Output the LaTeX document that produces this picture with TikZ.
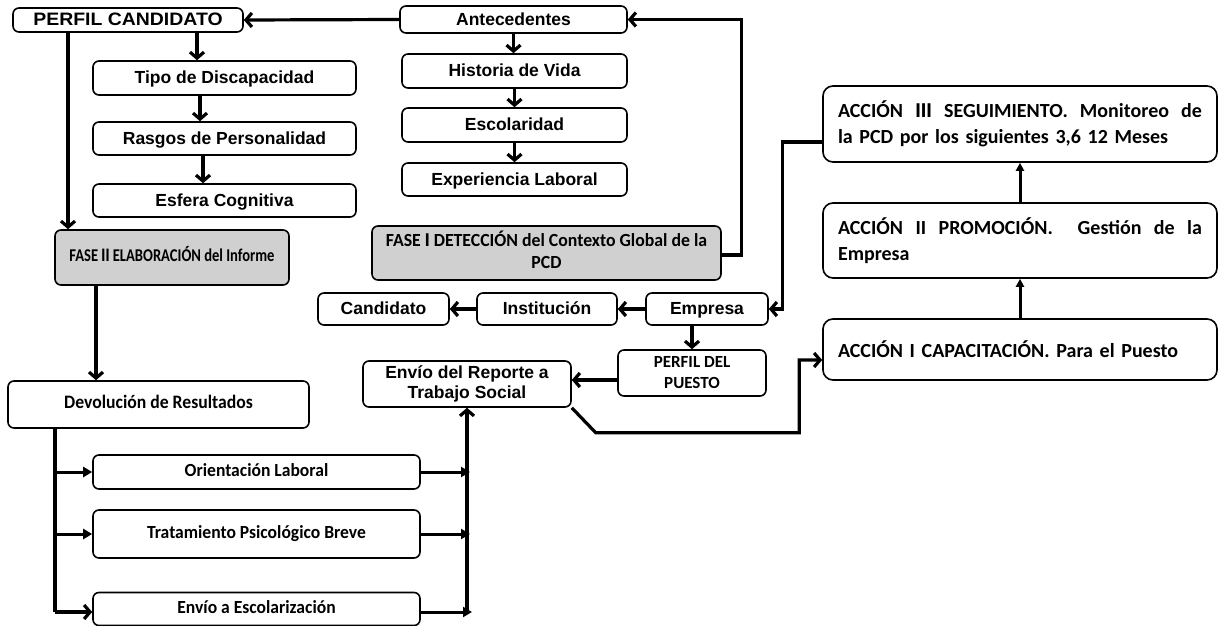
\documentclass[tikz,border=0pt]{standalone}
\usepackage{fontspec}
\setmainfont{Liberation Sans}
\newfontfamily\calfont{Carlito}
\usetikzlibrary{arrows.meta,calc}
\definecolor{fasegray}{RGB}{208,208,208}
\newcommand{\sq}[2]{\scalebox{#1}[1]{\begin{tabular}{@{}c@{}}#2\end{tabular}}}
\begin{document}
\begin{tikzpicture}[x=1pt,y=-1pt,
  box/.style={draw, line width=1.6pt, rounded corners=6pt, fill=white, inner sep=2pt, align=center,
              font=\fontsize{17.5}{20}\selectfont\bfseries},
  one/.style={text height=13.5pt, text depth=2pt},
  cbox/.style={box, font=\calfont\fontsize{18.5}{22}\selectfont\bfseries},
  gbox/.style={cbox, fill=fasegray},
  abox/.style={draw, line width=1.6pt, rounded corners=10pt, fill=white, inner xsep=15pt, align=left,
               text width=364pt, minimum width=394pt, font=\calfont\fontsize{20}{26}\selectfont\bfseries},
  chev/.style={line width=3.2pt, -{Straight Barb[length=6pt,width=14pt]}},
  tri/.style={line width=3pt, -{Triangle[length=9pt,width=10pt]}},
  stri/.style={line width=3pt, -{Triangle[length=8pt,width=8pt]}},
  plain/.style={line width=3.2pt}
]
\useasboundingbox (0,0) rectangle (1219,626);

% left column
\node[box, one, minimum width=230pt, minimum height=24pt, font=\fontsize{18}{19}\selectfont\bfseries] (pc) at (128,20) {\scalebox{1.08}[1]{PERFIL CANDIDATO}};
\node[box, one, minimum width=263pt, minimum height=34pt] (tipo) at (224.5,78) {Tipo de Discapacidad};
\node[box, one, minimum width=263pt, minimum height=33pt] (rasgos) at (224.5,138.5) {Rasgos de Personalidad};
\node[box, one, minimum width=263pt, minimum height=33pt] (esfera) at (224.5,200.5) {Esfera Cognitiva};

% middle column
\node[box, one, minimum width=227pt, minimum height=27pt] (ant) at (513.5,19.5) {Antecedentes};
\node[box, one, minimum width=225pt, minimum height=34pt] (hist) at (514.5,71) {Historia de Vida};
\node[box, one, minimum width=225pt, minimum height=34pt] (esc) at (514.5,125) {Escolaridad};
\node[box, one, minimum width=225pt, minimum height=33pt] (exp) at (514.5,179.5) {Experiencia Laboral};

% phases
\node[gbox, minimum width=234pt, minimum height=55pt, font=\calfont\fontsize{18}{22}\selectfont\bfseries] (fase2) at (172,257.5)
  {\sq{0.81}{FASE {\rmfamily II} ELABORACIÓN del Informe}};
\node[gbox, minimum width=349pt, minimum height=54pt, font=\calfont\fontsize{18.5}{22}\selectfont\bfseries] (fase1) at (546.5,253)
  {\sq{0.96}{FASE {\rmfamily I} DETECCIÓN del Contexto Global de la\\PCD}};

% row of agents
\node[box, one, minimum width=131pt, minimum height=32pt] (cand) at (383.5,309) {Candidato};
\node[box, one, minimum width=140pt, minimum height=32pt] (inst) at (547,309) {Institución};
\node[box, one, minimum width=122pt, minimum height=32pt] (emp) at (707,309) {Empresa};
\node[box, minimum width=148pt, minimum height=46pt, font=\calfont\fontsize{17}{21}\selectfont\bfseries] (pp) at (692,373) {PERFIL DEL\\PUESTO};
\node[box, minimum width=208pt, minimum height=46pt, font=\fontsize{17.5}{20}\selectfont\bfseries] (env) at (467,384) {Envío del Reporte a\\Trabajo Social};

% results
\node[cbox, minimum width=301pt, minimum height=47pt, font=\calfont\fontsize{19}{22}\selectfont\bfseries] (dev) at (158.5,404.5) {\sq{0.93}{Devolución de Resultados}};
\node[cbox, minimum width=327pt, minimum height=34pt] (ori) at (256.5,472) {\sq{0.95}{Orientación Laboral}};
\node[cbox, minimum width=327pt, minimum height=48pt] (trat) at (256.5,534) {\sq{0.95}{Tratamiento Psicológico Breve}};
\node[cbox, minimum width=327pt, minimum height=33pt] (escol) at (256.5,609) {\sq{0.95}{Envío a Escolarización}};

% actions
\node[abox, minimum height=76pt] (a3) at (1020,124)
  {\hbox to 364pt{ACCIÓN\hfill{\rmfamily\bfseries III}\hfill SEGUIMIENTO.\hfill Monitoreo\hfill de}\\la PCD por los siguientes 3,6 12 Meses};
\node[abox, minimum height=75pt] (a2) at (1020,240.5)
  {\hbox to 364pt{ACCIÓN\hfill II\hfill PROMOCIÓN.\hfill\hfill Gestión\hfill de\hfill la}\\Empresa};
\node[abox, minimum height=61pt] (a1) at (1020,349.5) {ACCIÓN I CAPACITACIÓN. Para el Puesto};

% connectors: upper left
\draw[chev] (ant.west) -- (pc.east);
\draw[chev] ([xshift=69]pc.south) -- ([xshift=-27.5]tipo.north);
\draw[chev] ([xshift=-24.5]tipo.south) -- ([xshift=-24.5]rasgos.north);
\draw[chev] ([xshift=-21.5]rasgos.south) -- ([xshift=-21.5]esfera.north);
\draw[chev] ([xshift=-60]pc.south) -- ([xshift=-104]fase2.north);

% middle column
\draw[chev] (ant.south) -- (ant.south |- hist.north);
\draw[chev] (hist.south) -- (esc.north);
\draw[chev] (esc.south) -- (exp.north);
\draw[chev] ([yshift=-2]fase1.east) -- ++(20,0) |- (ant.east);

% actions to empresa
\draw[chev] ([yshift=-18]a3.west) -- ++(-40,0) |- (emp.east);
\draw[chev] (emp.west) -- (inst.east);
\draw[chev] (inst.west) -- (cand.east);
\draw[chev] (pp.north |- emp.south) -- (pp.north);
\draw[chev] ([yshift=-7]pp.west) -- ([yshift=4]env.east);
\coordinate (k) at ([xshift=-23,yshift=-10.5]a1.west);
\draw[chev] (env.south east) -- ++(24,25) -| (k) -- ([yshift=-10.5]a1.west);
\draw[stri] (a1.north) -- (a2.south);
\draw[stri] (a2.north) -- (a3.south);

% fase II to devolucion
\draw[chev] ([xshift=-76]fase2.south) -- ([xshift=-62.5]dev.north);

% devolucion branches
\coordinate (dl) at ([xshift=-103.5]dev.south);
\coordinate (dlb) at ([yshift=-3]dl |- escol.west);
\draw[plain] (dl) -- (dlb);
\draw[tri] (dl |- ori.west) -- (ori.west);
\draw[tri] (dl |- trat.west) -- (trat.west);
\draw[chev] ([yshift=-3]escol.west -| dl) -- ([yshift=-3]escol.west);

% right branches to envio
\coordinate (er) at (env.south);
\draw[tri] (ori.east) -- ([xshift=3]ori.east -| er);
\draw[tri] (trat.east) -- ([xshift=3]trat.east -| er);
\draw[tri] ([yshift=-3]escol.east) -- ([xshift=5,yshift=-3]escol.east -| er);
\draw[chev] ([yshift=-5]escol.east -| er) -- (er);
\end{tikzpicture}
\end{document}
